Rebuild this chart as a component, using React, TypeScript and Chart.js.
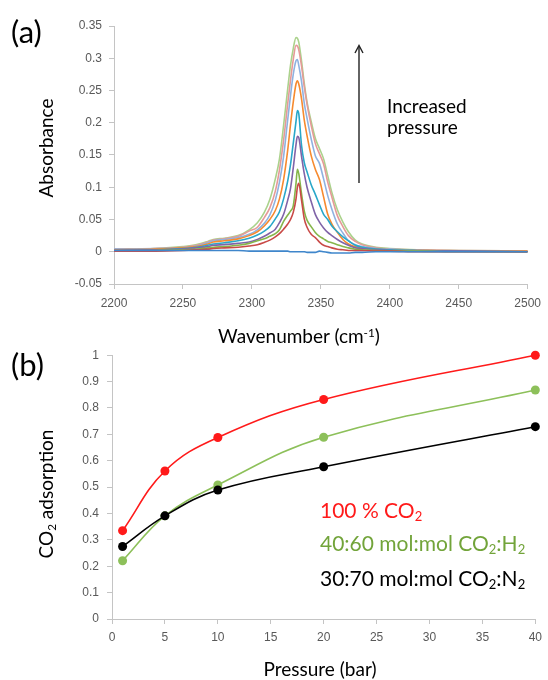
import React, { useEffect, useRef } from 'react';
import { Chart, registerables } from 'chart.js';

Chart.register(...registerables);

// ---------------- Panel (a): IR spectra ----------------
const WAVENUMBER = [
  2200, 2230, 2250, 2260, 2268, 2272, 2280, 2290, 2298, 2304,
  2309, 2313, 2317, 2320, 2323, 2326, 2328, 2330, 2332, 2333,
  2334, 2336, 2338, 2340, 2343, 2346, 2349, 2352, 2355, 2358,
  2362, 2366, 2370, 2375, 2380, 2390, 2400, 2420, 2450, 2500,
];

const ABS_BASELINE = [
  0.002, 0.002, 0.002, 0.002, 0.002, 0.002, 0.002, 0.002, 0.001, 0.001,
  0.001, 0.001, 0.001, 0.001, 0.001, 0.001, 0.0, 0.0, 0.0, 0.0,
  0.0, 0.0, 0.0, -0.001, -0.001, -0.001, 0.001, 0.0, -0.001, -0.002,
  -0.002, -0.002, -0.002, -0.001, -0.001, 0.0, 0.0, 0.0, 0.0, 0.0,
];
const ABS_RED = [
  0.001, 0.001, 0.002, 0.003, 0.004, 0.005, 0.006, 0.007, 0.009, 0.011,
  0.0145, 0.018, 0.023, 0.028, 0.035, 0.043, 0.05, 0.061, 0.082, 0.1,
  0.106, 0.08, 0.051, 0.038, 0.027, 0.022, 0.015, 0.01, 0.008, 0.006,
  0.004, 0.003, 0.002, 0.002, 0.002, 0.001, 0.001, 0.0, 0.0, 0.0,
];
const ABS_GREEN = [
  0.001, 0.002, 0.003, 0.004, 0.006, 0.007, 0.008, 0.01, 0.013, 0.017,
  0.02, 0.024, 0.028, 0.034, 0.047, 0.057, 0.063, 0.071, 0.106, 0.128,
  0.121, 0.09, 0.063, 0.049, 0.039, 0.03, 0.024, 0.02, 0.016, 0.014,
  0.011, 0.008, 0.006, 0.004, 0.003, 0.002, 0.001, 0.001, 0.0, 0.0,
];
const ABS_PURPLE = [
  0.002, 0.003, 0.004, 0.006, 0.008, 0.01, 0.011, 0.013, 0.015, 0.019,
  0.024, 0.029, 0.035, 0.045, 0.058, 0.08, 0.098, 0.13, 0.166, 0.179,
  0.177, 0.148, 0.121, 0.1, 0.078, 0.058, 0.046, 0.037, 0.03, 0.025,
  0.019, 0.014, 0.01, 0.006, 0.005, 0.003, 0.002, 0.001, 0.001, 0.0,
];
const ABS_TEAL = [
  0.002, 0.003, 0.005, 0.007, 0.01, 0.012, 0.014, 0.017, 0.021, 0.026,
  0.032, 0.039, 0.051, 0.062, 0.082, 0.11, 0.135, 0.168, 0.202, 0.219,
  0.214, 0.165, 0.138, 0.124, 0.104, 0.089, 0.073, 0.058, 0.05, 0.04,
  0.031, 0.023, 0.017, 0.01, 0.007, 0.004, 0.003, 0.002, 0.001, 0.0,
];
const ABS_ORANGE = [
  0.003, 0.004, 0.006, 0.008, 0.012, 0.015, 0.017, 0.02, 0.025, 0.031,
  0.04, 0.05, 0.064, 0.082, 0.112, 0.158, 0.197, 0.232, 0.26, 0.265,
  0.26, 0.237, 0.204, 0.18, 0.149, 0.128, 0.112, 0.085, 0.058, 0.043,
  0.03, 0.019, 0.012, 0.008, 0.006, 0.004, 0.003, 0.002, 0.001, 0.001,
];
const ABS_LIGHTBLUE = [
  0.004, 0.005, 0.006, 0.009, 0.014, 0.017, 0.019, 0.022, 0.027, 0.034,
  0.044, 0.057, 0.08, 0.108, 0.148, 0.205, 0.242, 0.275, 0.296, 0.298,
  0.289, 0.264, 0.23, 0.207, 0.175, 0.149, 0.137, 0.113, 0.087, 0.066,
  0.043, 0.029, 0.017, 0.011, 0.008, 0.005, 0.004, 0.002, 0.001, 0.001,
];
const ABS_PINK = [
  0.004, 0.005, 0.007, 0.01, 0.015, 0.018, 0.02, 0.024, 0.032, 0.038,
  0.053, 0.068, 0.094, 0.127, 0.173, 0.23, 0.266, 0.298, 0.32, 0.319,
  0.313, 0.288, 0.256, 0.229, 0.196, 0.168, 0.152, 0.136, 0.108, 0.085,
  0.056, 0.039, 0.025, 0.016, 0.011, 0.006, 0.004, 0.003, 0.002, 0.001,
];
const ABS_LIGHTGREEN = [
  0.004, 0.005, 0.008, 0.011, 0.016, 0.019, 0.021, 0.025, 0.034, 0.045,
  0.061, 0.081, 0.113, 0.144, 0.196, 0.253, 0.289, 0.315, 0.332, 0.331,
  0.325, 0.296, 0.261, 0.232, 0.202, 0.176, 0.16, 0.144, 0.118, 0.092,
  0.065, 0.046, 0.031, 0.018, 0.012, 0.007, 0.005, 0.003, 0.002, 0.001,
];

const SPECTRA_SERIES = [ABS_BASELINE, ABS_RED, ABS_GREEN, ABS_PURPLE, ABS_TEAL, ABS_ORANGE, ABS_LIGHTBLUE, ABS_PINK, ABS_LIGHTGREEN];
const SPECTRA_COLORS = ['#3F86CB', '#C94A47', '#86B64B', '#8064A8', '#29A7C9', '#F68A2F', '#8FB2E0', '#E59A98', '#ABD28C'];

const A_X_TICKS = [2200, 2250, 2300, 2350, 2400, 2450, 2500];
const A_X_LABELS = ['2200', '2250', '2300', '2350', '2400', '2450', '2500'];
const A_Y_TICKS = [-0.05, 0, 0.05, 0.1, 0.15, 0.2, 0.25, 0.3, 0.35];
const A_Y_LABELS = ['-0.05', '0', '0.05', '0.1', '0.15', '0.2', '0.25', '0.3', '0.35'];

// ---------------- Panel (b): adsorption ----------------
const PRESSURE = [1, 5, 10, 20, 40];
const ADS_CO2 = [0.335, 0.561, 0.688, 0.832, 1.0];
const ADS_CO2_H2 = [0.221, 0.391, 0.508, 0.689, 0.868];
const ADS_CO2_N2 = [0.275, 0.391, 0.489, 0.577, 0.729];

const B_X_TICKS = [0, 5, 10, 15, 20, 25, 30, 35, 40];
const B_X_LABELS = ['0', '5', '10', '15', '20', '25', '30', '35', '40'];
const B_Y_TICKS = [0, 0.1, 0.2, 0.3, 0.4, 0.5, 0.6, 0.7, 0.8, 0.9, 1];
const B_Y_LABELS = ['0', '0.1', '0.2', '0.3', '0.4', '0.5', '0.6', '0.7', '0.8', '0.9', '1'];

const AXIS_COLOR = '#C4C4C4';
const TICK_FONT = { family: "'Liberation Sans', Arial, sans-serif", size: 12 };
const TITLE_FONT = "Lato, 'Open Sans', sans-serif";

function makeAxis(min: number, max: number, ticks: number[], labels: string[], horizontal: boolean, size: number, pad: number) {
  return {
    type: 'linear',
    min,
    max,
    grid: { display: true, drawOnChartArea: false, drawTicks: true, tickLength: 5, color: AXIS_COLOR, lineWidth: 1 },
    border: { display: true, color: AXIS_COLOR, width: 1 },
    ticks: {
      color: '#595959',
      font: TICK_FONT,
      padding: pad,
      autoSkip: false,
      maxRotation: 0,
      minRotation: 0,
      callback: (_v: any, i: number) => labels[i],
    },
    afterBuildTicks: (s: any) => {
      s.ticks = ticks.map((v) => ({ value: v }));
    },
    afterFit: (s: any) => {
      if (horizontal) s.height = size;
      else s.width = size;
    },
  };
}

export default function App() {
  const refA = useRef<HTMLCanvasElement>(null);
  const refB = useRef<HTMLCanvasElement>(null);

  useEffect(() => {
    const chartA = new Chart(refA.current as HTMLCanvasElement, {
      type: 'line',
      data: {
        datasets: SPECTRA_SERIES.map((arr, k) => ({
          data: WAVENUMBER.map((x, i) => ({ x, y: arr[i] })),
          borderColor: SPECTRA_COLORS[k],
          borderWidth: 1.6,
          pointRadius: 0,
          fill: false,
          cubicInterpolationMode: 'monotone',
        })),
      } as any,
      options: {
        responsive: false,
        animation: false,
        devicePixelRatio: 1,
        layout: { padding: { left: 0, top: 26, right: 14, bottom: 0 } },
        plugins: { legend: { display: false }, tooltip: { enabled: false } },
        scales: {
          x: makeAxis(2200, 2500, A_X_TICKS, A_X_LABELS, true, 36, 7) as any,
          y: makeAxis(-0.05, 0.35, A_Y_TICKS, A_Y_LABELS, false, 114, 7) as any,
        },
      },
    });

    const mk = (ys: number[], color: string) => ({
      data: PRESSURE.map((x, i) => ({ x, y: ys[i] })),
      borderColor: color,
      backgroundColor: color,
      pointBackgroundColor: color,
      pointBorderColor: color,
      pointRadius: 4.5,
      pointBorderWidth: 0,
      borderWidth: 1.6,
      tension: 0.4,
      fill: false,
      clip: false,
    });

    const chartB = new Chart(refB.current as HTMLCanvasElement, {
      type: 'line',
      data: {
        datasets: [mk(ADS_CO2, '#FF1A1A'), mk(ADS_CO2_N2, '#000000'), mk(ADS_CO2_H2, '#8DC05A')],
      } as any,
      options: {
        responsive: false,
        animation: false,
        devicePixelRatio: 1,
        layout: { padding: { left: 0, top: 15, right: 10, bottom: 0 } },
        plugins: { legend: { display: false }, tooltip: { enabled: false } },
        scales: {
          x: makeAxis(0, 40, B_X_TICKS, B_X_LABELS, true, 61, 6) as any,
          y: makeAxis(0, 1, B_Y_TICKS, B_Y_LABELS, false, 112, 8) as any,
        },
      },
    });

    return () => {
      chartA.destroy();
      chartB.destroy();
    };
  }, []);

  const txt: React.CSSProperties = {
    position: 'absolute',
    fontFamily: TITLE_FONT,
    color: '#000',
    whiteSpace: 'nowrap',
    lineHeight: 1,
  };
  const sub: React.CSSProperties = { fontSize: '0.62em', verticalAlign: '-0.22em' };
  const sup: React.CSSProperties = { fontSize: '0.62em', verticalAlign: '0.55em' };

  return (
    <div style={{ position: 'absolute', left: 0, top: 0, width: 548, height: 680, background: '#fff', overflow: 'hidden' }}>
      <canvas ref={refA} width={548} height={320} style={{ position: 'absolute', left: 0, top: 0 }} />
      <canvas ref={refB} width={548} height={340} style={{ position: 'absolute', left: 0, top: 340 }} />

      {/* Panel (a) texts */}
      <div style={{ ...txt, left: 11, top: 16, fontSize: 31 }}>(a)</div>
      <div style={{ ...txt, left: 45, top: 148, fontSize: 19, transform: 'translate(-50%, -50%) rotate(-90deg)' }}>Absorbance</div>
      <div style={{ ...txt, left: 299, top: 326, fontSize: 19, transform: 'translateX(-50%)' }}>
        Wavenumber (cm<span style={sup}>-1</span>)
      </div>
      <div style={{ ...txt, left: 387, top: 96, fontSize: 19 }}>Increased</div>
      <div style={{ ...txt, left: 387, top: 117, fontSize: 19 }}>pressure</div>
      <svg width={548} height={340} style={{ position: 'absolute', left: 0, top: 0, pointerEvents: 'none' }}>
        <line x1={359} y1={183} x2={359} y2={46} stroke="#222" strokeWidth={1.4} />
        <polyline points="355,53 359,45.5 363,53" fill="none" stroke="#222" strokeWidth={1.4} />
      </svg>

      {/* Panel (b) texts */}
      <div style={{ ...txt, left: 11, top: 349, fontSize: 31 }}>(b)</div>
      <div style={{ ...txt, left: 47, top: 494, fontSize: 19, transform: 'translate(-50%, -50%) rotate(-90deg)' }}>
        CO<span style={sub}>2</span> adsorption
      </div>
      <div style={{ ...txt, left: 320, top: 659, fontSize: 19, transform: 'translateX(-50%)' }}>Pressure (bar)</div>
      <div style={{ ...txt, left: 320, top: 499, fontSize: 21, color: '#FF1A1A' }}>
        100 % CO<span style={sub}>2</span>
      </div>
      <div style={{ ...txt, left: 320, top: 532, fontSize: 21, color: '#72A43A' }}>
        40:60 mol:mol CO<span style={sub}>2</span>:H<span style={sub}>2</span>
      </div>
      <div style={{ ...txt, left: 320, top: 567, fontSize: 21, color: '#000' }}>
        30:70 mol:mol CO<span style={sub}>2</span>:N<span style={sub}>2</span>
      </div>
    </div>
  );
}
